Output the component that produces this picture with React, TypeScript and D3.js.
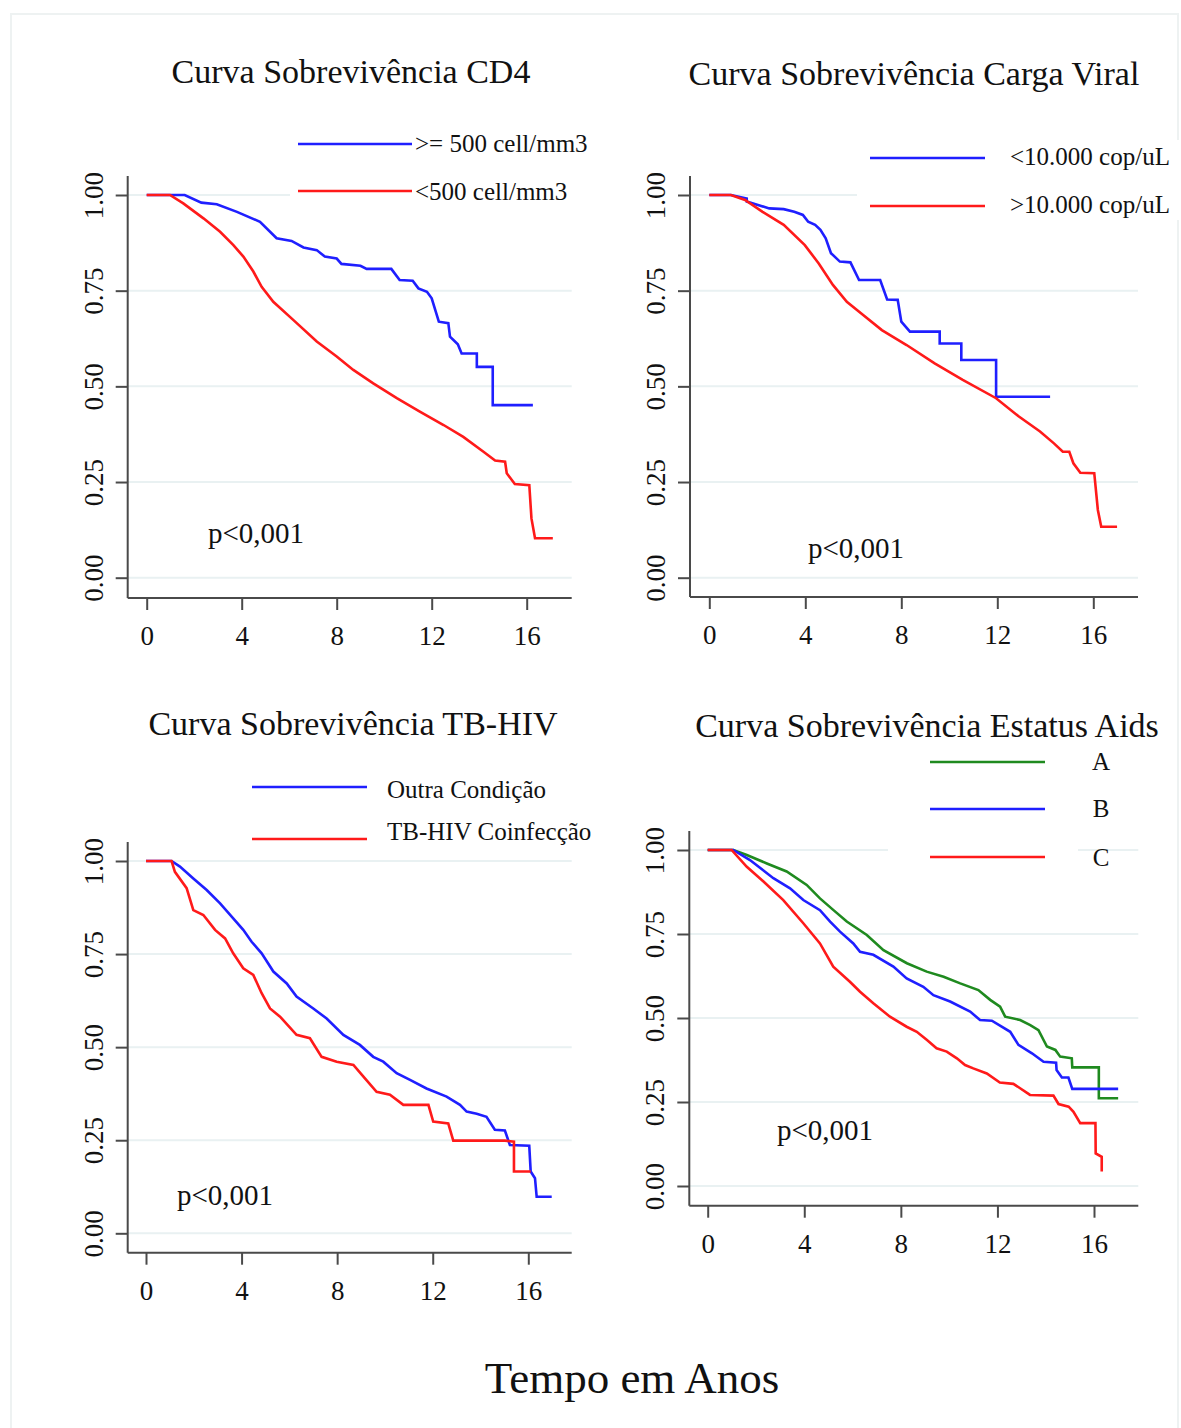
import React, { useEffect, useRef } from 'react'
import * as d3 from 'd3'

const FONT = '"Liberation Serif", "Times New Roman", Times, serif'
const BLUE = '#1f1fff'
const RED = '#ff1a1a'
const GREEN = '#1f8a1f'
const GRID = '#e9f1f2'
const AXIS = '#4a4a4a'

// tick values shared by all four panels
const xTicks = [0, 4, 8, 12, 16]
const yTicks = [0, 0.25, 0.5, 0.75, 1]

// Kaplan-Meier curves: [years, survival]
const cd4High: [number, number][] = [
  [0, 1], [1.6, 1], [2.3, 0.98], [2.95, 0.976], [3.8, 0.956], [4.77, 0.93], [5.47, 0.887], [6.1, 0.88],
  [6.6, 0.863], [7.16, 0.856], [7.5, 0.839], [8.0, 0.834], [8.2, 0.82], [9.0, 0.815], [9.26, 0.807],
  [10.3, 0.807], [10.65, 0.778], [11.2, 0.776], [11.44, 0.756], [11.8, 0.747], [12.0, 0.73], [12.3, 0.669],
  [12.7, 0.665], [12.77, 0.63], [13.1, 0.61], [13.26, 0.586], [13.9, 0.586], [13.9, 0.551], [14.57, 0.551],
  [14.57, 0.451], [16.26, 0.451],
]
const cd4Low: [number, number][] = [
  [0, 1], [0.98, 1], [1.54, 0.978], [2.39, 0.939], [3.09, 0.904], [3.65, 0.869], [4.07, 0.839], [4.49, 0.8],
  [4.84, 0.76], [5.33, 0.721], [6.18, 0.673], [7.16, 0.617], [8.0, 0.578], [8.7, 0.543], [9.54, 0.508],
  [10.53, 0.469], [11.5, 0.434], [12.5, 0.399], [13.33, 0.368], [14.18, 0.329], [14.67, 0.306], [15.09, 0.303],
  [15.16, 0.273], [15.5, 0.245], [16.11, 0.242], [16.2, 0.155], [16.35, 0.103], [17.1, 0.103],
]
const cvLow: [number, number][] = [
  [0, 1], [0.9, 1], [1.56, 0.991], [1.56, 0.983], [2.5, 0.965], [3.1, 0.963], [3.54, 0.956], [3.9, 0.948],
  [4.12, 0.93], [4.41, 0.922], [4.63, 0.909], [4.85, 0.887], [5.07, 0.848], [5.44, 0.826], [5.88, 0.824],
  [6.24, 0.778], [7.12, 0.778], [7.41, 0.727], [7.85, 0.726], [8.0, 0.669], [8.36, 0.643], [9.6, 0.643],
  [9.6, 0.612], [10.5, 0.612], [10.5, 0.569], [11.95, 0.569], [11.95, 0.473], [14.2, 0.473],
]
const cvHigh: [number, number][] = [
  [0, 1], [0.9, 1], [1.49, 0.987], [2.22, 0.956], [3.1, 0.922], [3.98, 0.869], [4.56, 0.821], [5.15, 0.765],
  [5.73, 0.721], [6.32, 0.691], [7.19, 0.647], [8.22, 0.608], [9.39, 0.56], [10.56, 0.517], [11.95, 0.469],
  [12.9, 0.421], [13.78, 0.382], [14.36, 0.351], [14.73, 0.329], [15.0, 0.329], [15.17, 0.299], [15.46, 0.274],
  [16.04, 0.273], [16.19, 0.177], [16.33, 0.133], [16.99, 0.133],
]
const tbOther: [number, number][] = [
  [0, 1], [1.07, 1], [1.42, 0.985], [1.98, 0.953], [2.54, 0.922], [3.1, 0.886], [3.65, 0.846], [4.07, 0.815],
  [4.42, 0.783], [4.84, 0.752], [5.33, 0.703], [5.89, 0.671], [6.3, 0.636], [7.0, 0.604], [7.56, 0.577],
  [8.26, 0.533], [8.95, 0.506], [9.51, 0.474], [9.93, 0.461], [10.49, 0.43], [11.05, 0.412], [11.74, 0.389],
  [12.58, 0.367], [13.14, 0.345], [13.42, 0.327], [13.84, 0.321], [14.25, 0.313], [14.6, 0.278], [15.02, 0.276],
  [15.23, 0.237], [16.04, 0.235], [16.1, 0.166], [16.28, 0.148], [16.35, 0.098], [16.98, 0.098],
]
const tbCoinf: [number, number][] = [
  [0, 1], [1.07, 1], [1.21, 0.971], [1.7, 0.927], [1.98, 0.868], [2.4, 0.855], [2.89, 0.815], [3.31, 0.792],
  [3.65, 0.752], [4.07, 0.712], [4.49, 0.694], [4.84, 0.645], [5.19, 0.604], [5.61, 0.582], [6.3, 0.533],
  [6.86, 0.524], [7.35, 0.474], [7.98, 0.461], [8.68, 0.452], [9.1, 0.421], [9.65, 0.38], [10.21, 0.372],
  [10.77, 0.345], [11.82, 0.345], [12.02, 0.3], [12.65, 0.295], [12.86, 0.249], [15.02, 0.249], [15.4, 0.246],
  [15.4, 0.166], [16.1, 0.166],
]
const aidsA: [number, number][] = [
  [0, 1], [1.06, 1], [1.62, 0.985], [2.45, 0.96], [3.27, 0.936], [4.1, 0.896], [4.65, 0.856], [5.21, 0.821],
  [5.76, 0.787], [6.59, 0.747], [7.28, 0.702], [8.25, 0.663], [9.07, 0.638], [9.77, 0.623], [10.46, 0.603],
  [11.21, 0.583], [11.7, 0.554], [12.11, 0.534], [12.32, 0.504], [12.94, 0.494], [13.36, 0.479], [13.7, 0.464],
  [14.05, 0.415], [14.4, 0.405], [14.6, 0.385], [15.08, 0.38], [15.1, 0.353], [16.2, 0.353], [16.2, 0.261],
  [17.0, 0.261],
]
const aidsB: [number, number][] = [
  [0, 1], [1.06, 1], [1.75, 0.97], [2.72, 0.916], [3.41, 0.886], [3.96, 0.851], [4.65, 0.821], [5.07, 0.787],
  [5.48, 0.757], [6.03, 0.722], [6.31, 0.697], [6.86, 0.688], [7.69, 0.653], [8.24, 0.618], [8.93, 0.593],
  [9.35, 0.568], [10.04, 0.549], [10.87, 0.519], [11.28, 0.494], [11.77, 0.492], [12.53, 0.459], [12.87, 0.42],
  [13.43, 0.395], [13.91, 0.37], [14.43, 0.367], [14.45, 0.345], [14.67, 0.323], [14.94, 0.323], [15.1, 0.289],
  [17.0, 0.289],
]
const aidsC: [number, number][] = [
  [0, 1], [0.99, 1], [1.62, 0.95], [2.31, 0.906], [3.13, 0.851], [3.96, 0.782], [4.65, 0.722], [5.2, 0.653],
  [5.89, 0.608], [6.31, 0.578], [6.86, 0.544], [7.55, 0.504], [8.24, 0.474], [8.66, 0.459], [9.07, 0.435],
  [9.48, 0.41], [9.9, 0.4], [10.32, 0.38], [10.66, 0.36], [11.0, 0.35], [11.56, 0.335], [12.1, 0.308],
  [12.66, 0.304], [12.94, 0.291], [13.35, 0.271], [14.32, 0.269], [14.53, 0.244], [14.95, 0.236], [15.15, 0.221],
  [15.43, 0.187], [16.06, 0.187], [16.07, 0.097], [16.32, 0.087], [16.32, 0.043],
]

interface Series { label: string; color: string; data: [number, number][] }

interface Layout {
  x0: number; x16: number; y1: number; y0: number
  axisX: number; axisTop: number; axisY: number; axisRight: number
  titleX: number; titleY: number
  legX1: number; legX2: number; legTextX: number; legLineY: number[]; legTextY: number[]; legAnchor: string
  mask: [number, number, number, number] | null
  pX: number; pY: number
}

function Panel({ title, series, L }: { title: string; series: Series[]; L: Layout }) {
  const xAxisRef = useRef<SVGGElement>(null)
  const yAxisRef = useRef<SVGGElement>(null)
  const x = d3.scaleLinear().domain([0, 16]).range([L.x0, L.x16])
  const y = d3.scaleLinear().domain([0, 1]).range([L.y0, L.y1])
  const line = d3.line<[number, number]>().x(d => x(d[0])).y(d => y(d[1])).curve(d3.curveLinear)

  useEffect(() => {
    const gx = d3.select(xAxisRef.current!)
    gx.call(d3.axisBottom(x).tickValues(xTicks).tickSize(12).tickSizeOuter(0).tickFormat(d3.format('d')))
    gx.select('.domain').remove()
    gx.selectAll('line').attr('stroke', AXIS).attr('stroke-width', 2)
    gx.selectAll('text').attr('y', 47).attr('dy', null).attr('fill', '#111')
      .attr('font-family', FONT).attr('font-size', 27)

    const gy = d3.select(yAxisRef.current!)
    gy.call(d3.axisLeft(y).tickValues(yTicks).tickSize(12).tickSizeOuter(0).tickFormat(d3.format('.2f')))
    gy.select('.domain').remove()
    gy.selectAll('line').attr('stroke', AXIS).attr('stroke-width', 2)
    gy.selectAll('text').attr('x', null).attr('dy', null).attr('text-anchor', 'middle')
      .attr('transform', 'translate(-25,0) rotate(-90)').attr('fill', '#111')
      .attr('font-family', FONT).attr('font-size', 27)
  }, [])

  return (
    <g>
      {yTicks.map(t => (
        <line key={t} x1={L.axisX} x2={L.axisRight} y1={y(t)} y2={y(t)} stroke={GRID} strokeWidth={2} />
      ))}
      {L.mask && <rect x={L.mask[0]} y={L.mask[1]} width={L.mask[2]} height={L.mask[3]} fill="#fff" />}
      <text x={L.titleX} y={L.titleY} textAnchor="middle" fontFamily={FONT} fontSize={34} fill="#111">{title}</text>
      {series.map((s, i) => (
        <g key={s.label}>
          <line x1={L.legX1} x2={L.legX2} y1={L.legLineY[i]} y2={L.legLineY[i]} stroke={s.color} strokeWidth={2.5} />
          <text x={L.legTextX} y={L.legTextY[i]} textAnchor={L.legAnchor} fontFamily={FONT} fontSize={25} fill="#111">{s.label}</text>
        </g>
      ))}
      {series.map(s => (
        <path key={s.label} d={line(s.data) || ''} fill="none" stroke={s.color} strokeWidth={2.6} strokeLinejoin="miter" />
      ))}
      <line x1={L.axisX} x2={L.axisX} y1={L.axisTop} y2={L.axisY} stroke={AXIS} strokeWidth={2} />
      <line x1={L.axisX} x2={L.axisRight} y1={L.axisY} y2={L.axisY} stroke={AXIS} strokeWidth={2} />
      <g ref={xAxisRef} transform={`translate(0,${L.axisY})`} />
      <g ref={yAxisRef} transform={`translate(${L.axisX},0)`} />
      <text x={L.pX} y={L.pY} fontFamily={FONT} fontSize={29} fill="#111">p&lt;0,001</text>
    </g>
  )
}

const layoutCD4: Layout = {
  x0: 146.7, x16: 526.7, y1: 195, y0: 577.7, axisX: 127.7, axisTop: 176, axisY: 598, axisRight: 571.7,
  titleX: 351, titleY: 83,
  legX1: 298, legX2: 412, legTextX: 415, legLineY: [144, 191], legTextY: [152, 200], legAnchor: 'start',
  mask: [290, 130, 290, 72], pX: 208, pY: 543,
}
const layoutCV: Layout = {
  x0: 709.3, x16: 1093.3, y1: 195, y0: 577.7, axisX: 690, axisTop: 176, axisY: 597, axisRight: 1138,
  titleX: 914, titleY: 85,
  legX1: 870, legX2: 985, legTextX: 1010, legLineY: [158, 206], legTextY: [165, 213], legAnchor: 'start',
  mask: [857, 140, 324, 80], pX: 808, pY: 558,
}
const layoutTB: Layout = {
  x0: 146, x16: 528.3, y1: 861, y0: 1233.3, axisX: 127.7, axisTop: 842, axisY: 1252.7, axisRight: 571.7,
  titleX: 353, titleY: 735,
  legX1: 252, legX2: 367, legTextX: 387, legLineY: [787, 839], legTextY: [798, 840], legAnchor: 'start',
  mask: null, pX: 177, pY: 1205,
}
const layoutAids: Layout = {
  x0: 707.7, x16: 1094, y1: 850, y0: 1186, axisX: 689.3, axisTop: 831, axisY: 1205.7, axisRight: 1138.3,
  titleX: 927, titleY: 737,
  legX1: 930, legX2: 1045, legTextX: 1101, legLineY: [762, 809, 857], legTextY: [770, 817, 866], legAnchor: 'middle',
  mask: [888, 745, 190, 120], pX: 777, pY: 1140,
}

export default function App() {
  return (
    <svg width={1181} height={1428} style={{ position: 'absolute', left: 0, top: 0, background: '#fff' }}>
      <rect x={0} y={0} width={1181} height={1428} fill="#fff" />
      <rect x={11} y={14} width={1167} height={1420} fill="none" stroke="#eef2f2" strokeWidth={2} />
      <Panel title="Curva Sobrevivência CD4" L={layoutCD4} series={[
        { label: '>= 500 cell/mm3', color: BLUE, data: cd4High },
        { label: '<500 cell/mm3', color: RED, data: cd4Low },
      ]} />
      <Panel title="Curva Sobrevivência Carga Viral" L={layoutCV} series={[
        { label: '<10.000 cop/uL', color: BLUE, data: cvLow },
        { label: '>10.000 cop/uL', color: RED, data: cvHigh },
      ]} />
      <Panel title="Curva Sobrevivência TB-HIV" L={layoutTB} series={[
        { label: 'Outra Condição', color: BLUE, data: tbOther },
        { label: 'TB-HIV Coinfecção', color: RED, data: tbCoinf },
      ]} />
      <Panel title="Curva Sobrevivência Estatus Aids" L={layoutAids} series={[
        { label: 'A', color: GREEN, data: aidsA },
        { label: 'B', color: BLUE, data: aidsB },
        { label: 'C', color: RED, data: aidsC },
      ]} />
      <text x={632} y={1393} textAnchor="middle" fontFamily={FONT} fontSize={45} fill="#111">Tempo em Anos</text>
    </svg>
  )
}
